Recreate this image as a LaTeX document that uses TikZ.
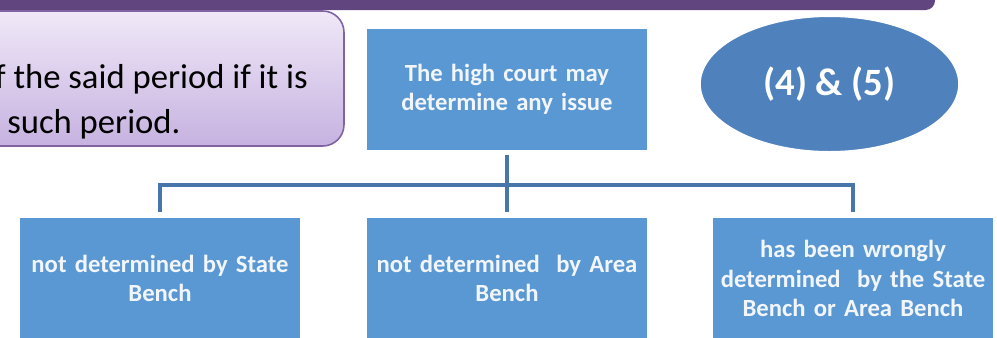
\documentclass[tikz,border=0pt]{standalone}
\usepackage{fontspec}
\setmainfont{Carlito}
\usetikzlibrary{shapes.geometric,calc}
\definecolor{barpurple}{HTML}{60457F}
\definecolor{boxborder}{HTML}{8064A2}
\definecolor{boxtop}{HTML}{F0E8F8}
\definecolor{boxbot}{HTML}{C6B2E0}
\definecolor{blueboxc}{HTML}{5A98D3}
\definecolor{ellc}{HTML}{4F81BD}
\definecolor{connc}{HTML}{4876AA}
\definecolor{txtw}{HTML}{F2F6FB}
\tikzset{
  bluebox/.style={fill=blueboxc, draw=none, minimum width=210pt, minimum height=90.75pt,
    text width=200pt, align=center, inner sep=0pt, text=txtw,
    font=\fontsize{18.5}{22}\selectfont\bfseries},
  conn/.style={draw=connc, line width=3pt},
  ptext/.style={inner sep=0pt, font=\fontsize{26}{34}\selectfont, text=black}
}
\begin{document}
\begin{tikzpicture}[x=0.75pt,y=-0.75pt]
\useasboundingbox (0,0) rectangle (997,337);
\clip (0,0) rectangle (997,337);
% top purple bar
\fill[barpurple, rounded corners=7pt] (-30,-30) rectangle (935,10);
% purple rounded box
\shade[top color=boxtop, bottom color=boxbot, draw=boxborder, line width=1.2pt, rounded corners=16pt] (-30,11) rectangle (344,146);
\node[ptext, anchor=base east] (p1) at (308,88) {f the said period if it is};
\node[ptext, anchor=base west] (p2) at (7,133) {such period.};
% top blue box
\node[bluebox] (top) at (507,89.5) {The high court may\\determine any issue};
% ellipse
\node[ellipse, fill=ellc, draw=white, line width=3pt, minimum width=196pt, minimum height=103.5pt,
  inner sep=0pt, text=white, font=\fontsize{29}{34}\selectfont\bfseries] (ell) at (829.5,84) {(4) \& (5)};
% bottom boxes
\node[bluebox] (b1) at (160,278.5) {not determined by State\\Bench};
\node[bluebox] (b2) at (507,278.5) {not determined\ \ by Area\\Bench};
\node[bluebox] (b3) at (853,278.5) {has been wrongly\\determined\ \ by the State\\Bench or Area Bench};
% connectors
\coordinate (j) at (507,185);
\draw[conn, shorten <=3.75pt] (top.south) -- (j);
\draw[conn, shorten >=4.5pt] (j) -| (b1.north);
\draw[conn, shorten >=4.5pt] (j) -| (b3.north);
\draw[conn, shorten >=4.5pt] (j) -- (b2.north);
\end{tikzpicture}
\end{document}
